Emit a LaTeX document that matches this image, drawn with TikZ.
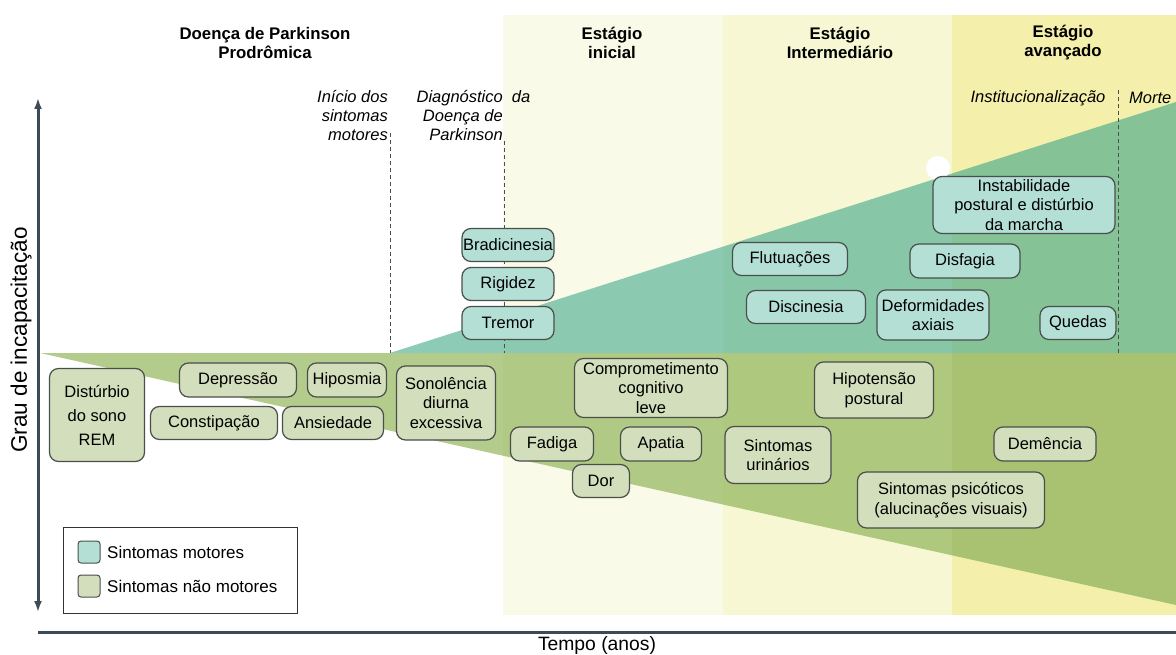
\documentclass[tikz,border=0pt]{standalone}
\usepackage{fontspec}
\setmainfont{Liberation Sans}
\usetikzlibrary{arrows.meta}
\definecolor{bgA}{HTML}{FAFAE8}
\definecolor{bgB}{HTML}{F7F7D4}
\definecolor{bgC}{HTML}{F4EFAA}
\definecolor{nmA}{HTML}{B3CC8C}
\definecolor{nmB}{HTML}{B0CA85}
\definecolor{nmC}{HTML}{AEC87E}
\definecolor{nmD}{HTML}{A8C271}
\definecolor{mA}{HTML}{8DCBB6}
\definecolor{mB}{HTML}{8BCAB0}
\definecolor{mC}{HTML}{88C6A8}
\definecolor{mD}{HTML}{85C296}
\definecolor{motfill}{HTML}{B4DFD5}
\definecolor{nonfill}{HTML}{D3DEBC}
\definecolor{boxline}{HTML}{4A4F4C}
\definecolor{axiscol}{HTML}{3E4A55}
\newcommand{\boxfont}{\fontsize{16.5}{19.5}\selectfont}
\newcommand{\hdfont}{\fontsize{16.8}{19}\selectfont\bfseries}
\newcommand{\itfont}{\fontsize{16.5}{19}\selectfont\itshape}
\tikzset{
  mot/.style={draw=boxline, fill=motfill, rounded corners=9pt, line width=1.2pt, align=center, inner sep=1pt, font=\boxfont},
  non/.style={draw=boxline, fill=nonfill, rounded corners=9pt, line width=1.2pt, align=center, inner sep=1pt, font=\boxfont},
  hd/.style={align=center, font=\hdfont, inner sep=0pt},
  ev/.style={font=\itfont, inner sep=0pt},
  vdash/.style={draw=boxline, line width=0.9pt, dash pattern=on 4pt off 3pt},
  axisline/.style={draw=axiscol, line width=3pt},
  legsq/.style={draw=boxline, line width=1pt, rounded corners=3pt, minimum width=22pt, minimum height=22pt, inner sep=0pt},
  legtxt/.style={anchor=west, font=\fontsize{17}{19}\selectfont, inner sep=0pt},
}
\begin{document}
\begin{tikzpicture}[x=1pt,y=-1pt]
\useasboundingbox (0,0) rectangle (1176,655);
% background stage bands
\fill[bgA] (503,15) rectangle (723,615);
\fill[bgB] (723,15) rectangle (952,615);
\fill[bgC] (952,15) rectangle (1176,615);
% triangles by band
\foreach \xa/\xb/\cn/\cm in {0/503/nmA/mA, 503/723/nmB/mB, 723/952/nmC/mC, 952/1176/nmD/mD}{
  \begin{scope}
    \clip (\xa,0) rectangle (\xb,655);
    \fill[\cn] (40,353) -- (1176,353) -- (1176,605) -- cycle;
    \fill[\cm] (390,353) -- (1176,102) -- (1176,353) -- cycle;
  \end{scope}
}
\fill[white] (938,168) circle (12);
% headers
\node[hd] (h0) at (265,43) {Doença de Parkinson\\Prodrômica};
\node[hd] (h1) at (612,43) {Estágio\\inicial};
\node[hd] (h2) at (840,43) {Estágio\\Intermediário};
\node[hd] (h3) at (1063,43) {Estágio\\avançado};
% event labels
\node[ev, align=right, anchor=north east] (e1) at (388,90) {Início dos\\sintomas\\motores};
\node[ev, align=right, anchor=north east] (e2) at (503,90) {Diagnóstico\rlap{\ \ da}\\Doença de\\Parkinson};
\node[ev] (e3) at (1038,98) {Institucionalização};
\node[ev, anchor=west] (e4) at (1129,98) {Morte};
% dashed lines
\coordinate (d1t) at (390,133); \coordinate (d1b) at (390,353);
\coordinate (d2t) at (504,141); \coordinate (d2b) at (504,353);
\coordinate (d3t) at (1118,90); \coordinate (d3b) at (1118,353);
\draw[vdash] (d1t) -- (d1b);
\draw[vdash] (d2t) -- (d2b);
\draw[vdash] (d3t) -- (d3b);
% motor symptoms
\node[mot, minimum width=92pt, minimum height=33pt] (bra) at (508,245) {Bradicinesia};
\node[mot, minimum width=92pt, minimum height=33pt] (rig) at (508,284) {Rigidez};
\node[mot, minimum width=92pt, minimum height=33pt] (tre) at (508,323) {Tremor};
\node[mot, minimum width=115pt, minimum height=33pt] (flu) at (790,259) {Flutuações};
\node[mot, minimum width=119pt, minimum height=33pt] (dis) at (806,307) {Discinesia};
\node[mot, minimum width=182pt, minimum height=57pt] (ins) at (1024,205) {Instabilidade\\postural e distúrbio\\da marcha};
\node[mot, minimum width=110pt, minimum height=34pt] (dfg) at (965,261) {Disfagia};
\node[mot, minimum width=112pt, minimum height=50pt] (def) at (933,315) {Deformidades\\axiais};
\node[mot, minimum width=76pt, minimum height=33pt] (que) at (1078,323) {Quedas};
% non-motor symptoms
\node[non, minimum width=95pt, minimum height=93pt, font=\fontsize{16.5}{24}\selectfont] (rem) at (97,415) {Distúrbio\\do sono\\REM};
\node[non, minimum width=117pt, minimum height=34pt] (dep) at (238,380) {Depressão};
\node[non, minimum width=79pt, minimum height=34pt] (hip) at (347,380) {Hiposmia};
\node[non, minimum width=127pt, minimum height=33pt] (con) at (214,423) {Constipação};
\node[non, minimum width=101pt, minimum height=33pt] (ans) at (333,423) {Ansiedade};
\node[non, minimum width=99pt, minimum height=74pt] (son) at (446,403) {Sonolência\\diurna\\excessiva};
\node[non, minimum width=153pt, minimum height=59pt] (ccl) at (651,388) {Comprometimento\\cognitivo\\leve};
\node[non, minimum width=83pt, minimum height=34pt] (fad) at (552,444) {Fadiga};
\node[non, minimum width=81pt, minimum height=34pt] (apa) at (661,444) {Apatia};
\node[non, minimum width=57pt, minimum height=33pt] (dor) at (601,481) {Dor};
\node[non, minimum width=106pt, minimum height=57pt] (uri) at (778,455) {Sintomas\\urinários};
\node[non, minimum width=119pt, minimum height=56pt] (hpt) at (874,390) {Hipotensão\\postural};
\node[non, minimum width=102pt, minimum height=34pt] (dem) at (1045,444) {Demência};
\node[non, minimum width=187pt, minimum height=56pt] (psi) at (951,500) {Sintomas psicóticos\\(alucinações visuais)};
% legend
\node[draw=black!80, fill=white, line width=1pt, minimum width=234pt, minimum height=86pt, inner sep=0pt] (leg) at (180,570) {};
\node[legsq, fill=motfill] (lsq1) at (89,552) {};
\node[legsq, fill=nonfill] (lsq2) at (89,586) {};
\node[legtxt] (lt1) at (107,552) {Sintomas motores};
\node[legtxt] (lt2) at (107,586) {Sintomas não motores};
% axes
\coordinate (yt) at (38,98); \coordinate (yb) at (38,612);
\coordinate (xl) at (38,632); \coordinate (xr) at (1176,632);
\draw[axisline, {Latex[length=11pt,width=8pt]}-{Latex[length=11pt,width=8pt]}] (yt) -- (yb);
\draw[axisline] (xl) -- (xr);
\node[font=\fontsize{19.3}{21}\selectfont, inner sep=0pt] (xlab) at (597,646) {Tempo (anos)};
\node[font=\fontsize{22.5}{24}\selectfont, inner sep=0pt, rotate=90] (ylab) at (21,340) {Grau de incapacitação};
\end{tikzpicture}
\end{document}
